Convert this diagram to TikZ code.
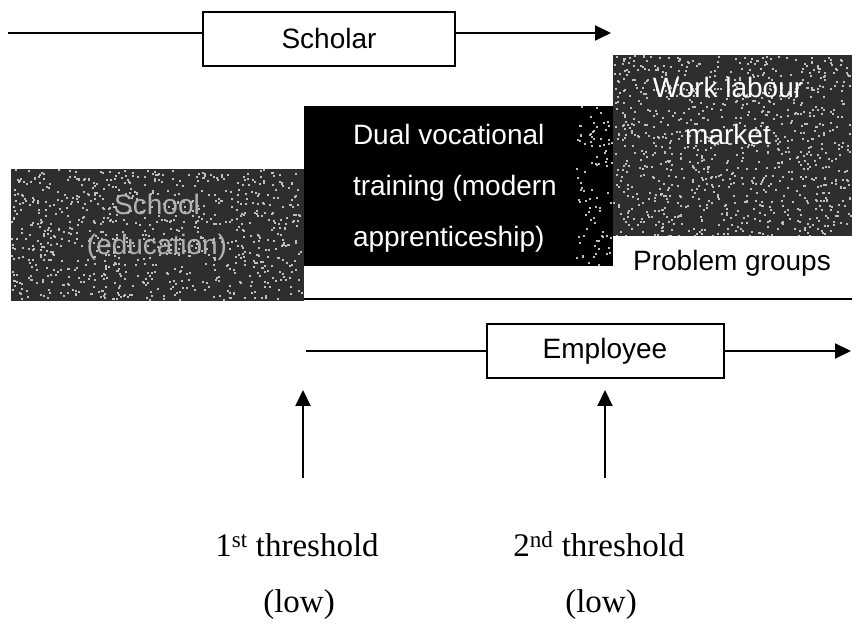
\documentclass[tikz,border=0pt]{standalone}
\usepackage{fontspec}
\setmainfont{Liberation Serif}
\setsansfont{Liberation Sans}
\usetikzlibrary{arrows.meta}

\tikzset{
  role/.style={draw, line width=2pt, minimum height=54pt, inner sep=0pt,
    font=\sffamily\fontsize{28}{34}\selectfont},
  box text/.style={inner sep=0pt, anchor=base, font=\sffamily\fontsize{28}{34}\selectfont},
  threshold/.style={inner sep=0pt, anchor=base, font=\rmfamily\fontsize{33}{40}\selectfont},
  speckle/.style={fill=black!82},
  grain/.style={fill=black!25},
}

\begin{document}
\begin{tikzpicture}[x=1pt, y=1pt, >={Triangle[length=16pt,width=15pt]}, line width=2pt]

\useasboundingbox (0,0) rectangle (852,639);

% sektorit
\fill[speckle] (613,373) rectangle (852,584);
\fill[black] (304,373) rectangle (613,533);
\fill[speckle] (11,338) rectangle (304,470);

\pgfmathsetseed{12}
\foreach \xa/\ya/\w/\h/\n in {613/373/239/211/1100, 11/338/293/132/850, 576/373/37/160/90}
  \foreach \k in {1,...,\n}
    \fill[grain] ({\xa+(\w-2)*rnd},{\ya+(\h-2)*rnd}) rectangle ++(2,2);

\fill[white] (304,340) rectangle (852,373);
\fill[white] (613,340) rectangle (852,403);
\draw (304,340) -- (852,340);

\node[box text, white] (work-1) at (728,541) {Work labour};
\node[box text, white] (work-2) at (728,494) {market};

\foreach \l [count=\i] in {Dual vocational, training (modern, apprenticeship)}
  \node[box text, white, anchor=base west] (dual-\i) at (352,545-\i*51) {\l};

\node[box text, black!30] (school-1) at (157,424) {School};
\node[box text, black!30] (school-2) at (157,384) {(education)};

\node[box text] (problem) at (732,368) {Problem groups};

% roolit
\node[role, minimum width=252pt] (scholar) at (329,600) {Scholar};
\coordinate (scholar-in) at (8,606);
\coordinate (scholar-out) at (611,606);
\draw (scholar-in) -- (scholar-in -| scholar.west);
\draw[->] (scholar.east |- scholar-in) -- (scholar-out);

\node[role, minimum width=237pt] (employee) at (605,288) {Employee};
\coordinate (employee-in) at (306,288);
\coordinate (employee-out) at (851,288);
\draw (employee-in) -- (employee.west);
\draw[->] (employee.east) -- (employee-out);

% kynnykset
\foreach \x/\n [count=\i] in {303/st, 605/nd} {
  \coordinate (foot-\i) at (\x,161);
  \coordinate (tip-\i) at (\x,249);
  \draw[->] (foot-\i) -- (tip-\i);
  \node[threshold] (threshold-\i) at (\x-6,82) {\i\textsuperscript{\n} threshold};
  \node[threshold] (low-\i) at (\x-4,26) {(low)};
}

\end{tikzpicture}
\end{document}
